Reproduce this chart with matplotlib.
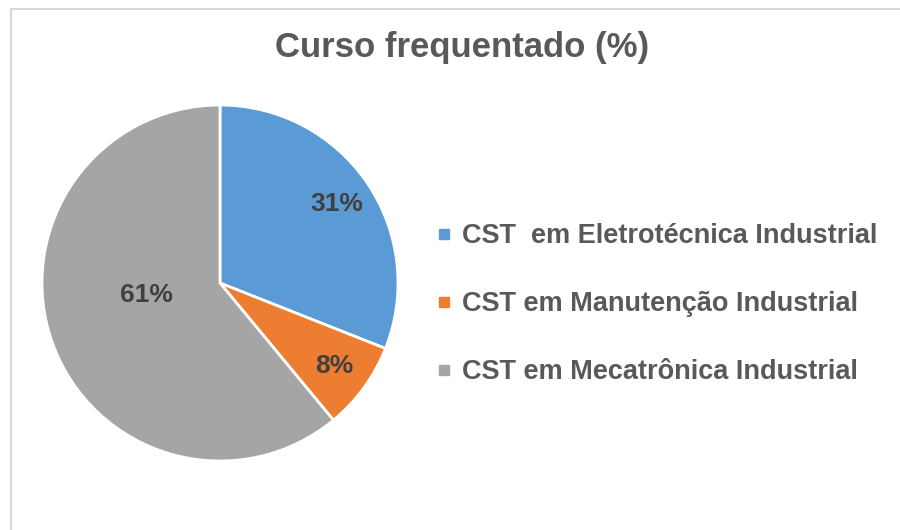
import matplotlib
matplotlib.use("Agg")
import matplotlib.pyplot as plt
from matplotlib.lines import Line2D
import numpy as np

plt.rcParams['font.family'] = ['Liberation Sans', 'DejaVu Sans']

title = "Curso frequentado (%)"
categories = ["CST  em Eletrotécnica Industrial",
              "CST em Manutenção Industrial",
              "CST em Mecatrônica Industrial"]
values = [31, 8, 61]
colors = ["#5B9BD5", "#ED7D31", "#A5A5A5"]

W, H = 900, 530
fig = plt.figure(figsize=(W / 100, H / 100), dpi=100)
fig.patch.set_facecolor("white")

# pie axes: centre (220, 283) px, radius 178 px
cx, cy, r = 220, 283, 178
ax = fig.add_axes([(cx - r) / W, (H - cy - r) / H, 2 * r / W, 2 * r / H])
wedges, texts, autotexts = ax.pie(
    values, colors=colors, startangle=90, counterclock=False,
    autopct=lambda p: f"{p:.0f}%", pctdistance=0.79,
    wedgeprops=dict(edgecolor="white", linewidth=2),
    textprops=dict(fontsize=19, fontweight="bold", color="#404040"))
# largest slice label placed closer to centre (best-fit style)
w = wedges[2]
mid = np.deg2rad((w.theta1 + w.theta2) / 2)
autotexts[2].set_position((0.44 * np.cos(mid), 0.44 * np.sin(mid) + 0.08))
ax.set_xlim(-1, 1)
ax.set_ylim(-1, 1)
ax.set_aspect("equal")
ax.axis("off")

fig.text(462 / W, 1 - 48 / H, title, ha="center", va="center",
         fontsize=25, fontweight="bold", color="#595959")

handles = [Line2D([0], [0], marker="s", linestyle="none", markersize=7,
                  markerfacecolor=c, markeredgecolor=c) for c in colors]
leg = fig.legend(handles, categories, loc="center left",
                 bbox_to_anchor=(425 / W, 1 - 304 / H), frameon=False,
                 prop=dict(size=19.5, weight="bold"), labelspacing=1.55,
                 handlelength=0.6, handletextpad=0.35, borderaxespad=0)
for t in leg.get_texts():
    t.set_color("#595959")

# light frame (top and left edges visible)
fig.add_artist(Line2D([11 / W, 1], [1 - 8.5 / H, 1 - 8.5 / H],
                      transform=fig.transFigure, color="#D9D9D9", lw=1.5))
fig.add_artist(Line2D([11 / W, 11 / W], [0, 1 - 8.5 / H],
                      transform=fig.transFigure, color="#D9D9D9", lw=1.5))

fig.savefig("out.png", dpi=100, facecolor="white")
